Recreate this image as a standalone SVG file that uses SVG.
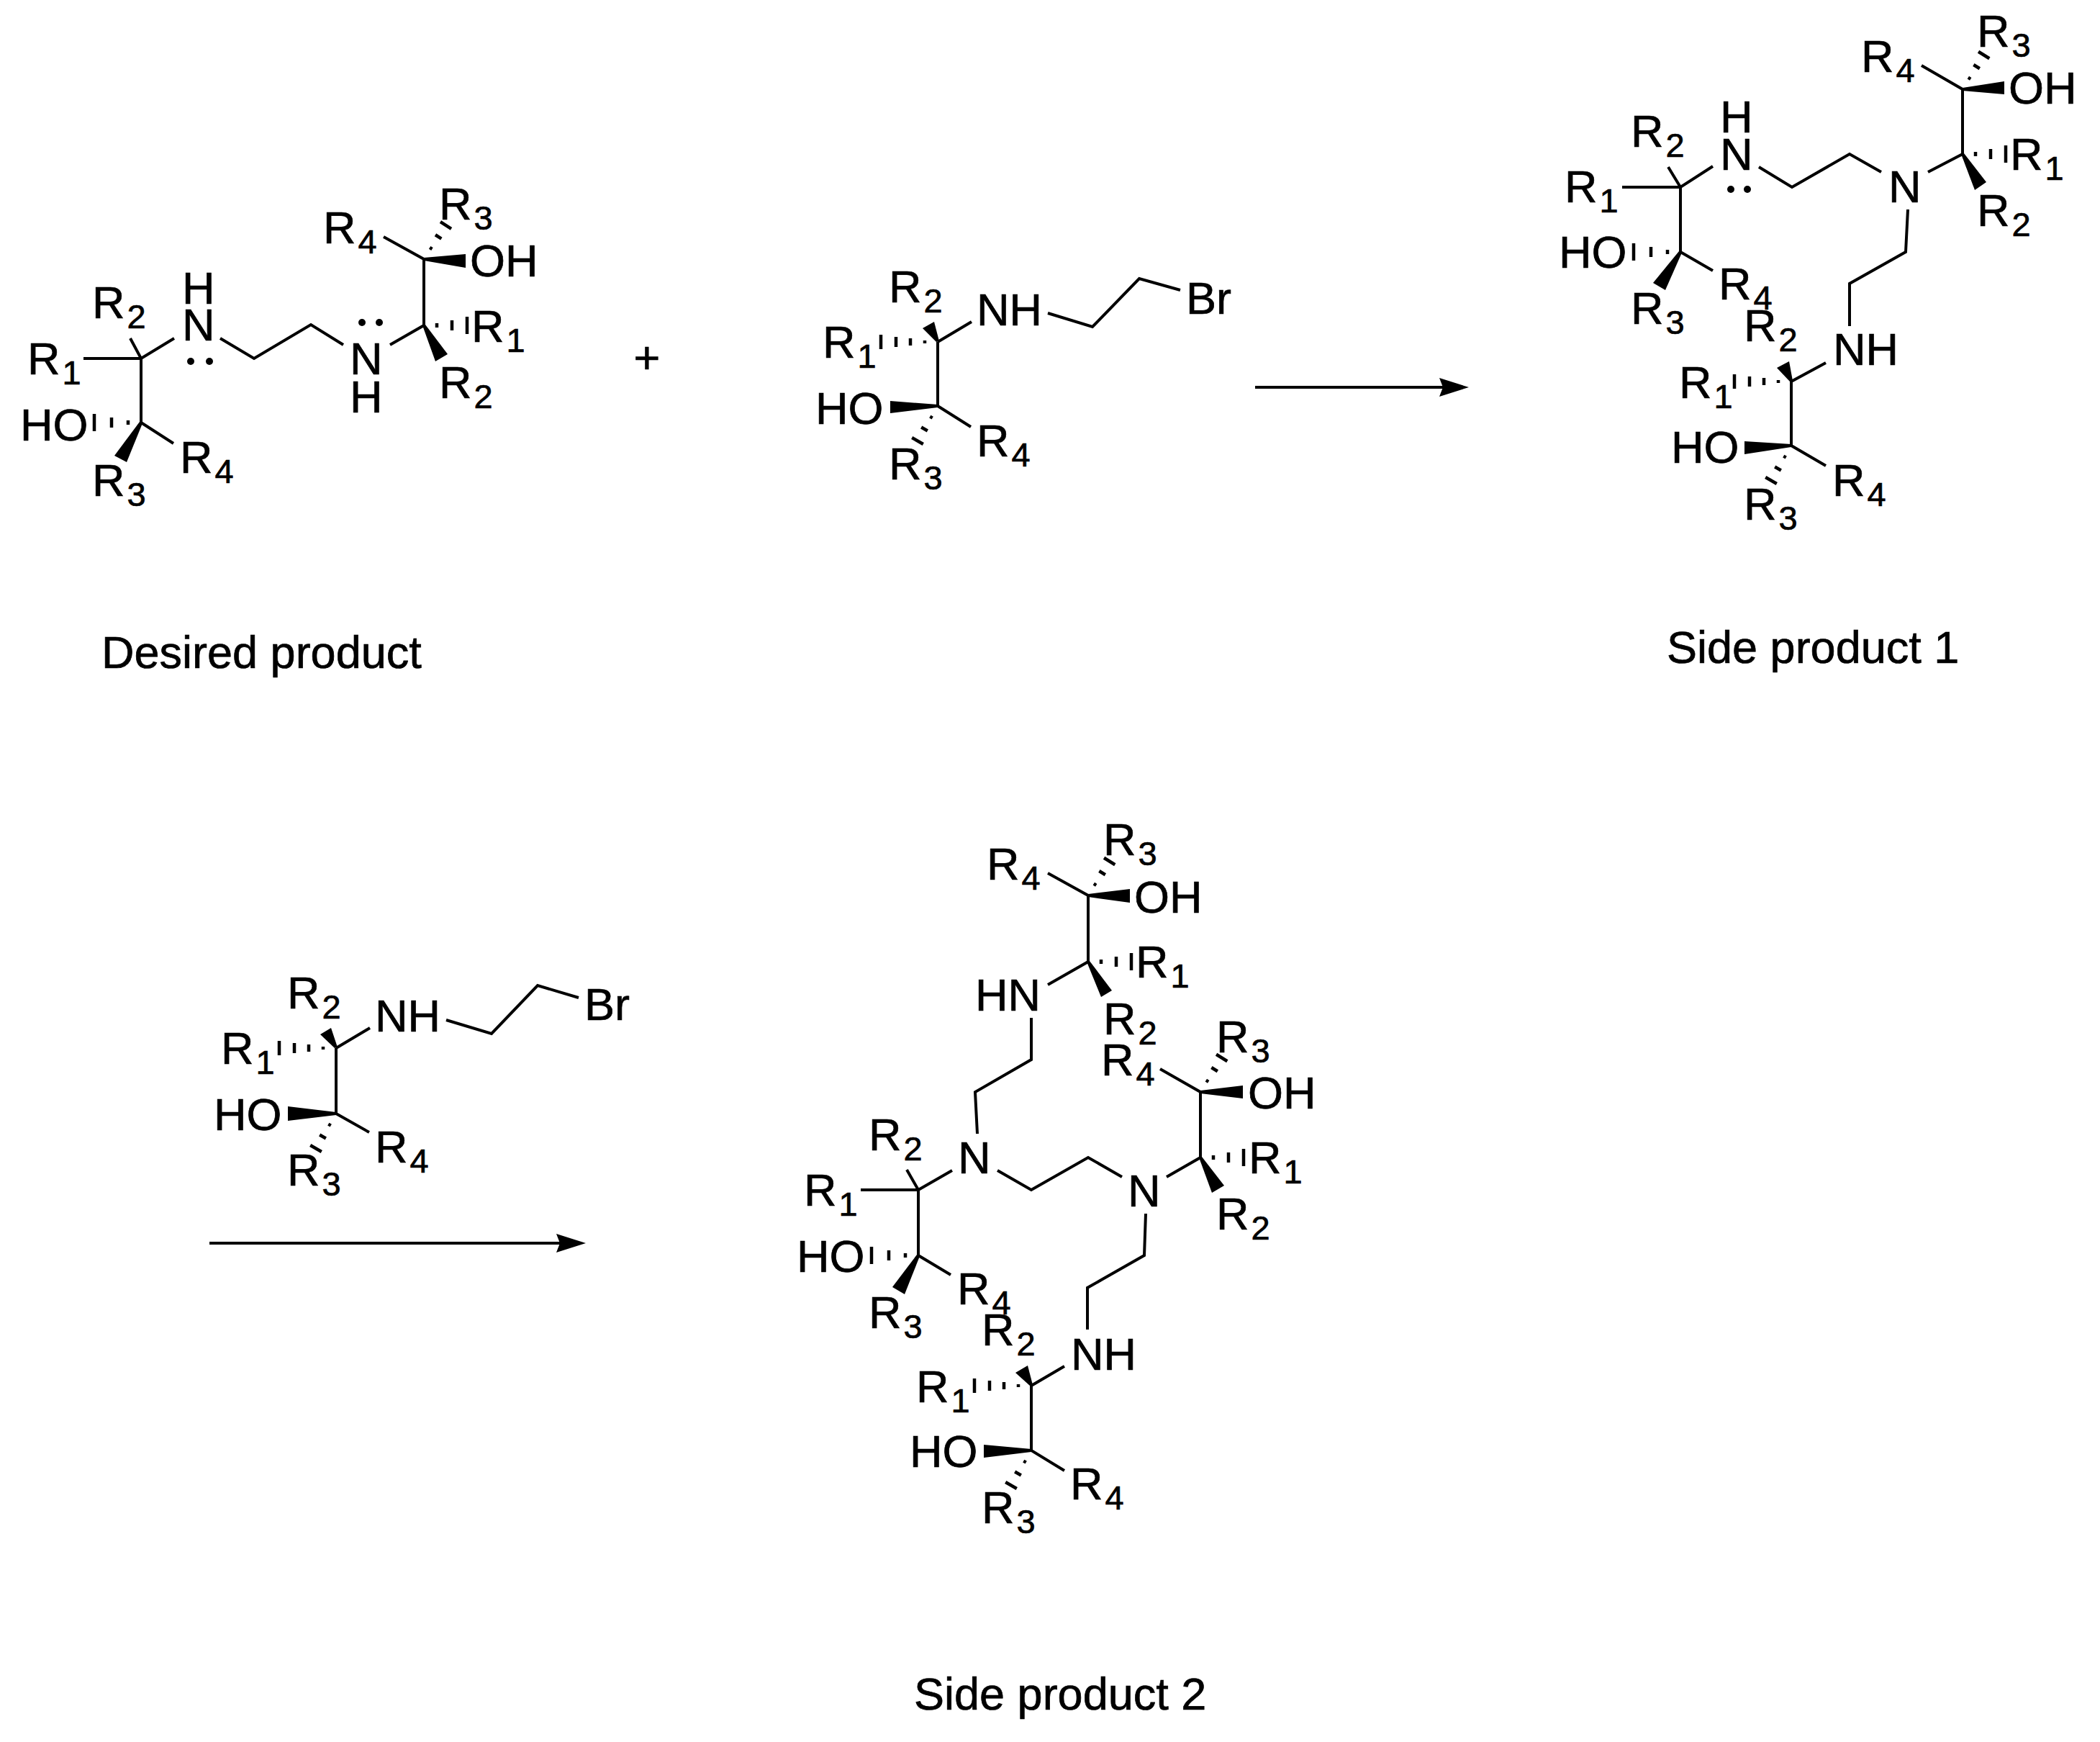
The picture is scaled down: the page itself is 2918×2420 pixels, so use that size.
<svg xmlns="http://www.w3.org/2000/svg" width="2918" height="2420" viewBox="0 0 2918 2420">
<style>
text{font-family:"Liberation Sans",Arial,sans-serif;font-size:63px;fill:#000;stroke:#000;stroke-width:.7px}
.s{font-size:47px}
.b{fill:none;stroke:#000;stroke-width:4;stroke-linejoin:miter}
.h{fill:none;stroke:#000;stroke-width:4.5}
.w{fill:#000;stroke:none}
.d{fill:#000}
</style>
<defs>
<path id="hl" class="h" d="M18-3V3M41-7V7M65-12V12"/>
<path id="hr" class="h" d="M18-3V3M39-7V7M60-12V12"/>
<path id="hu" class="h" d="M18-2V2M37-5V5M56-9V9"/>
<path id="h4" class="h" d="M18-2V2M38-5V5M58-7V7M79-10V10"/>
<polygon id="arrowhead" class="w" points="0,0 -41,-13 -36,0 -41,13"/>
</defs>
<rect width="2918" height="2420" fill="#fff"/>

<g id="connectors">
<path class="b" d="M1744 538H2010"/><use href="#arrowhead" x="2041" y="538"/>
<path class="b" d="M291 1727H785"/><use href="#arrowhead" x="814" y="1727"/>
</g>

<g id="desired-product">
<g id="desired-product-bonds">
<path class="b" d="M116 498H196V587M181 470L196 498L242 470M306 470L353 498L432 451L477 479M542 479L589 452V360L533 329M196 587L241 616"/>
<polygon class="w" points="589,358 647,353 647,372 589,362"/>
<polygon class="w" points="587,452 591,451 622,492 605,502"/>
<polygon class="w" points="194,586 198,588 176,642 159,633"/>
<use href="#hu" transform="translate(589 360) rotate(-57)"/>
<use href="#hr" transform="translate(589 452)"/>
<use href="#hl" transform="translate(196 587) rotate(180)"/>
<circle class="d" cx="265" cy="502" r="5"/><circle class="d" cx="291" cy="502" r="5"/>
<circle class="d" cx="503" cy="448" r="5"/><circle class="d" cx="527" cy="448" r="5"/>
</g>
<text x="38" y="520">R<tspan class="s" dx="3" dy="14">1</tspan></text>
<text x="128" y="442">R<tspan class="s" dx="3" dy="14">2</tspan></text>
<text x="28" y="612">HO</text>
<text x="128" y="689">R<tspan class="s" dx="3" dy="14">3</tspan></text>
<text x="250" y="657">R<tspan class="s" dx="3" dy="14">4</tspan></text>
<text x="253" y="422">H</text>
<text x="253" y="473">N</text>
<text x="486" y="520">N</text>
<text x="486" y="573">H</text>
<text x="449" y="338">R<tspan class="s" dx="3" dy="14">4</tspan></text>
<text x="610" y="305">R<tspan class="s" dx="3" dy="14">3</tspan></text>
<text x="653" y="384">OH</text>
<text x="655" y="475">R<tspan class="s" dx="3" dy="14">1</tspan></text>
<text x="610" y="553">R<tspan class="s" dx="3" dy="14">2</tspan></text>
<text x="141" y="928">Desired product</text>
</g>

<text id="plus" x="899" y="519" text-anchor="middle">+</text>

<g id="bromide-1">
<g id="bromide-1-bonds">
<path class="b" d="M1303 475V564M1350 447L1303 475M1456 435L1518 454L1583 387L1640 403M1303 564L1349 593"/>
<polygon class="w" points="1301,475 1305,474 1298,447 1282,456"/>
<polygon class="w" points="1303,562 1303,566 1237,574 1237,557"/>
<use href="#h4" transform="translate(1303 475) rotate(180)"/>
<use href="#hu" transform="translate(1303 564) rotate(120)"/>
</g>
<text x="1235" y="420">R<tspan class="s" dx="3" dy="14">2</tspan></text>
<text x="1357" y="452">NH</text>
<text x="1648" y="436">Br</text>
<text x="1143" y="497">R<tspan class="s" dx="3" dy="14">1</tspan></text>
<text x="1133" y="589">HO</text>
<text x="1357" y="634">R<tspan class="s" dx="3" dy="14">4</tspan></text>
<text x="1235" y="666">R<tspan class="s" dx="3" dy="14">3</tspan></text>
</g>

<g id="side-product-1">
<g id="side-product-1-bonds">
<path class="b" d="M2254 260H2335V350M2318 232L2335 260L2380 231M2444 232L2490 260L2570 214L2614 239M2679 239L2727 214V124L2670 91M2335 350L2380 376M2651 291L2648 350L2570 394V453M2537 504L2489 530V619L2537 647"/>
<polygon class="w" points="2727,122 2785,113 2785,131 2727,126"/>
<polygon class="w" points="2725,214 2729,213 2760,253 2744,264"/>
<polygon class="w" points="2333,349 2337,351 2314,403 2297,393"/>
<polygon class="w" points="2487,530 2491,529 2486,502 2469,511"/>
<polygon class="w" points="2489,617 2489,621 2424,631 2424,613"/>
<use href="#hu" transform="translate(2727 124) rotate(-58)"/>
<use href="#hr" transform="translate(2727 214)"/>
<use href="#hl" transform="translate(2335 350) rotate(180)"/>
<use href="#h4" transform="translate(2489 530) rotate(180)"/>
<use href="#hu" transform="translate(2489 619) rotate(120)"/>
<circle class="d" cx="2405" cy="263" r="5"/><circle class="d" cx="2428" cy="263" r="5"/>
</g>
<text x="2174" y="281">R<tspan class="s" dx="3" dy="14">1</tspan></text>
<text x="2266" y="204">R<tspan class="s" dx="3" dy="14">2</tspan></text>
<text x="2390" y="184">H</text>
<text x="2390" y="236">N</text>
<text x="2166" y="372">HO</text>
<text x="2388" y="416">R<tspan class="s" dx="3" dy="14">4</tspan></text>
<text x="2266" y="450">R<tspan class="s" dx="3" dy="14">3</tspan></text>
<text x="2624" y="281">N</text>
<text x="2586" y="100">R<tspan class="s" dx="3" dy="14">4</tspan></text>
<text x="2747" y="65">R<tspan class="s" dx="3" dy="14">3</tspan></text>
<text x="2791" y="144">OH</text>
<text x="2793" y="236">R<tspan class="s" dx="3" dy="14">1</tspan></text>
<text x="2747" y="314">R<tspan class="s" dx="3" dy="14">2</tspan></text>
<text x="2547" y="507">NH</text>
<text x="2423" y="474">R<tspan class="s" dx="3" dy="14">2</tspan></text>
<text x="2333" y="553">R<tspan class="s" dx="3" dy="14">1</tspan></text>
<text x="2322" y="643">HO</text>
<text x="2546" y="689">R<tspan class="s" dx="3" dy="14">4</tspan></text>
<text x="2423" y="722">R<tspan class="s" dx="3" dy="14">3</tspan></text>
<text x="2316" y="921">Side product 1</text>
</g>

<g id="bromide-2">
<g id="bromide-2-bonds">
<path class="b" d="M467 1456V1547M514 1428L467 1456M620 1417L683 1436L747 1369L804 1386M467 1547L513 1573"/>
<polygon class="w" points="465,1456 469,1455 460,1428 445,1437"/>
<polygon class="w" points="467,1545 467,1549 400,1557 400,1537"/>
<use href="#h4" transform="translate(467 1456) rotate(180)"/>
<use href="#hu" transform="translate(467 1547) rotate(120)"/>
</g>
<text x="399" y="1401">R<tspan class="s" dx="3" dy="14">2</tspan></text>
<text x="521" y="1433">NH</text>
<text x="812" y="1417">Br</text>
<text x="307" y="1478">R<tspan class="s" dx="3" dy="14">1</tspan></text>
<text x="297" y="1570">HO</text>
<text x="521" y="1615">R<tspan class="s" dx="3" dy="14">4</tspan></text>
<text x="399" y="1647">R<tspan class="s" dx="3" dy="14">3</tspan></text>
</g>

<g id="side-product-2">
<g id="side-product-2-bonds">
<path class="b" d="M1456 1213L1512 1244V1336L1456 1368M1433 1414V1472L1355 1517L1358 1575M1386 1626L1433 1653L1512 1608L1559 1635M1621 1635L1668 1608V1517L1612 1485M1592 1686L1590 1744L1511 1789V1847M1196 1653H1276V1744L1321 1771M1260 1625L1276 1653L1323 1626M1479 1898L1433 1925V2015L1479 2043"/>
<polygon class="w" points="1512,1242 1570,1235 1570,1254 1512,1246"/>
<polygon class="w" points="1510,1336 1514,1335 1545,1376 1530,1385"/>
<polygon class="w" points="1668,1515 1727,1508 1727,1526 1668,1519"/>
<polygon class="w" points="1666,1608 1670,1607 1701,1647 1684,1657"/>
<polygon class="w" points="1274,1743 1278,1745 1257,1798 1240,1788"/>
<polygon class="w" points="1431,1925 1435,1924 1428,1897 1411,1907"/>
<polygon class="w" points="1433,2013 1433,2017 1367,2025 1367,2007"/>
<use href="#hu" transform="translate(1512 1244) rotate(-58)"/>
<use href="#hr" transform="translate(1512 1336)"/>
<use href="#hu" transform="translate(1668 1517) rotate(-58)"/>
<use href="#hr" transform="translate(1668 1608)"/>
<use href="#hl" transform="translate(1276 1744) rotate(180)"/>
<use href="#h4" transform="translate(1433 1925) rotate(180)"/>
<use href="#hu" transform="translate(1433 2015) rotate(120)"/>
</g>
<text x="1371" y="1222">R<tspan class="s" dx="3" dy="14">4</tspan></text>
<text x="1533" y="1188">R<tspan class="s" dx="3" dy="14">3</tspan></text>
<text x="1576" y="1268">OH</text>
<text x="1578" y="1358">R<tspan class="s" dx="3" dy="14">1</tspan></text>
<text x="1533" y="1437">R<tspan class="s" dx="3" dy="14">2</tspan></text>
<text x="1355" y="1404">HN</text>
<text x="1690" y="1462">R<tspan class="s" dx="3" dy="14">3</tspan></text>
<text x="1530" y="1494">R<tspan class="s" dx="3" dy="14">4</tspan></text>
<text x="1734" y="1540">OH</text>
<text x="1735" y="1630">R<tspan class="s" dx="3" dy="14">1</tspan></text>
<text x="1690" y="1708">R<tspan class="s" dx="3" dy="14">2</tspan></text>
<text x="1331" y="1630">N</text>
<text x="1567" y="1676">N</text>
<text x="1207" y="1598">R<tspan class="s" dx="3" dy="14">2</tspan></text>
<text x="1117" y="1675">R<tspan class="s" dx="3" dy="14">1</tspan></text>
<text x="1107" y="1767">HO</text>
<text x="1330" y="1812">R<tspan class="s" dx="3" dy="14">4</tspan></text>
<text x="1207" y="1845">R<tspan class="s" dx="3" dy="14">3</tspan></text>
<text x="1488" y="1903">NH</text>
<text x="1364" y="1869">R<tspan class="s" dx="3" dy="14">2</tspan></text>
<text x="1273" y="1948">R<tspan class="s" dx="3" dy="14">1</tspan></text>
<text x="1264" y="2038">HO</text>
<text x="1487" y="2083">R<tspan class="s" dx="3" dy="14">4</tspan></text>
<text x="1364" y="2116">R<tspan class="s" dx="3" dy="14">3</tspan></text>
<text x="1270" y="2375">Side product 2</text>
</g>
</svg>
